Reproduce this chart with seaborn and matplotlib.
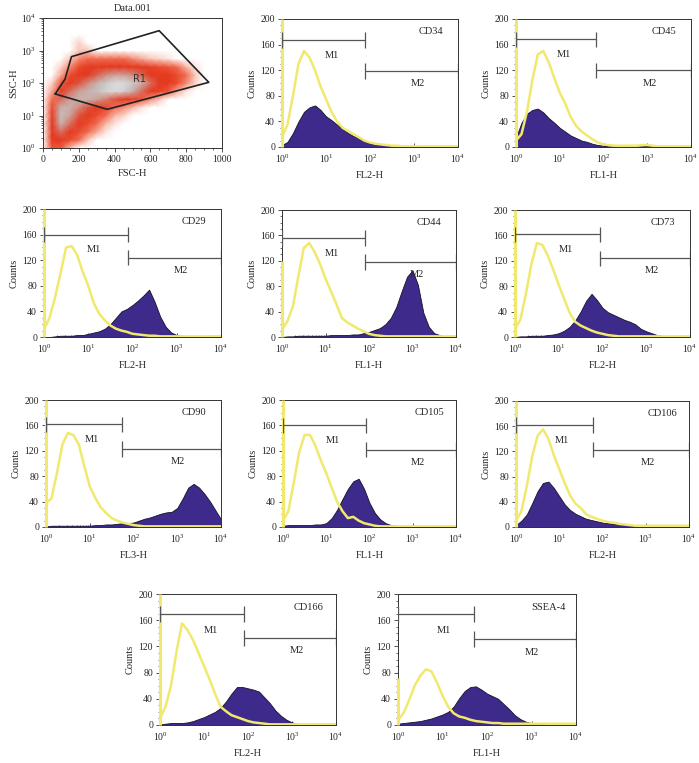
#!/usr/bin/env python3
"""
Flow cytometry panel: FSC/SSC gate plus isotype vs. marker histograms
for 10 surface markers (CD34 ... SSEA-4).
"""

import numpy as np
import matplotlib
matplotlib.use("Agg")
import matplotlib.pyplot as plt
from matplotlib.colors import LinearSegmentedColormap
from matplotlib.ticker import MultipleLocator, LogLocator, NullFormatter
import seaborn as sns

# ---------------------------------------------------------------- data
# log10 channel position of each histogram sample
LOG_CHANNEL = [0.0, 0.125, 0.25, 0.375, 0.5, 0.625, 0.75, 0.875, 1.0, 1.125,
               1.25, 1.375, 1.5, 1.625, 1.75, 1.875, 2.0, 2.125, 2.25, 2.375,
               2.5, 2.625, 2.75, 2.875, 3.0, 3.125, 3.25, 3.375, 3.5, 3.625,
               3.75, 3.875, 4.0]

CD34_ISO = [15, 35, 80, 130, 150, 140, 120, 95, 75, 55, 40, 30, 25, 20, 15, 10, 7,
            5, 4, 3, 2, 2, 1, 1, 1, 1, 1, 1, 1, 1, 1, 1, 1]
CD34_STAIN = [3, 8, 22, 40, 55, 62, 65, 58, 48, 42, 35, 28, 22, 17, 15, 10, 6, 4,
              3, 3, 2, 1, 1, 0, 0, 0, 0, 0, 0, 0, 0, 0, 0]

CD45_ISO = [10, 20, 55, 105, 145, 150, 132, 108, 85, 68, 47, 33, 24, 18, 12, 7, 4,
            3, 2, 2, 2, 2, 2, 3, 3, 2, 1, 1, 1, 1, 1, 1, 1]
CD45_STAIN = [15, 38, 52, 58, 60, 54, 45, 38, 30, 24, 18, 14, 10, 8, 5, 3, 2, 1, 1,
              0.5, 0.5, 0.5, 0.5, 1, 2, 1, 0, 0, 0, 0, 0, 0, 0]

CD29_ISO = [12, 30, 62, 100, 140, 142, 128, 102, 80, 53, 36, 26, 18, 13, 10, 8, 5,
            4, 3, 2, 2, 1, 1, 1, 1, 1, 1, 1, 1, 1, 1, 1, 1]
CD29_STAIN = [0, 0, 1, 2, 2, 2, 3, 3, 5, 7, 9, 13, 20, 30, 40, 44, 50, 57, 65, 74,
              55, 32, 16, 7, 3, 2, 1, 0, 0, 0, 0, 0, 0]

CD44_ISO = [12, 25, 48, 95, 140, 148, 134, 115, 92, 72, 52, 30, 23, 18, 13, 9, 5,
            3, 2, 1, 1, 1, 1, 1, 1, 1, 1, 1, 1, 1, 1, 1, 1]
CD44_STAIN = [0, 1, 1, 2, 2, 2, 2, 2, 2, 3, 3, 3, 3, 4, 4, 6, 8, 11, 14, 20, 30,
              47, 72, 95, 105, 82, 38, 16, 6, 3, 1, 0, 0]

CD73_ISO = [12, 28, 68, 115, 148, 145, 128, 106, 82, 60, 38, 24, 18, 14, 10, 7, 5,
            3, 2, 1, 1, 1, 1, 1, 1, 1, 1, 1, 1, 1, 1, 1, 1]
CD73_STAIN = [0, 1, 1, 2, 2, 2, 3, 4, 6, 10, 16, 26, 40, 57, 68, 58, 46, 39, 35,
              31, 27, 24, 20, 13, 9, 6, 3, 2, 1, 0, 0, 0, 0]

CD90_ISO = [38, 45, 85, 130, 148, 145, 130, 96, 64, 46, 31, 22, 14, 10, 7, 5, 3, 2,
            1, 1, 1, 1, 1, 1, 1, 1, 1, 1, 1, 1, 1, 1, 1]
CD90_STAIN = [1, 2, 2, 2, 2, 2, 2, 2, 2, 3, 3, 4, 4, 5, 6, 6, 7, 10, 13, 15, 18,
              21, 23, 24, 30, 45, 62, 68, 62, 52, 40, 26, 12]

CD105_ISO = [10, 25, 70, 118, 145, 145, 128, 105, 85, 62, 40, 25, 14, 16, 10, 6, 4,
             2, 1, 1, 1, 1, 1, 1, 1, 1, 1, 1, 1, 1, 1, 1, 1]
CD105_STAIN = [2, 3, 3, 3, 3, 3, 4, 4, 6, 14, 27, 44, 60, 72, 76, 60, 38, 22, 12,
               6, 3, 2, 1, 0, 0, 0, 0, 0, 0, 0, 0, 0, 0]

CD106_ISO = [10, 25, 65, 112, 145, 155, 140, 114, 92, 70, 50, 37, 30, 20, 16, 13,
             10, 8, 7, 5, 4, 3, 2, 2, 2, 2, 2, 2, 2, 2, 2, 2, 2]
CD106_STAIN = [3, 10, 20, 38, 57, 70, 72, 62, 49, 36, 27, 21, 17, 13, 11, 9, 7, 6,
               5, 5, 4, 3, 2, 2, 1, 0, 0, 0, 0, 0, 0, 0, 0]

CD166_ISO = [10, 28, 60, 112, 155, 145, 130, 110, 90, 70, 48, 28, 21, 15, 12, 9, 6,
             4, 3, 2, 1, 1, 1, 1, 1, 1, 1, 1, 1, 1, 1, 1, 1]
CD166_STAIN = [1, 2, 3, 3, 3, 4, 6, 9, 12, 16, 20, 26, 36, 48, 58, 58, 56, 54, 51,
               42, 33, 22, 14, 8, 4, 2, 1, 0, 0, 0, 0, 0, 0]

SSEA4_ISO = [8, 18, 38, 60, 75, 85, 82, 65, 45, 28, 18, 13, 11, 8, 6, 5, 4, 3, 3, 2,
             2, 2, 2, 2, 2, 2, 2, 2, 2, 2, 2, 2, 2]
SSEA4_STAIN = [2, 3, 4, 5, 6, 8, 10, 13, 16, 20, 28, 41, 52, 58, 59, 54, 48, 44, 40,
               32, 24, 15, 9, 5, 3, 2, 1, 0, 0, 0, 0, 0, 0]

MARKERS = ["CD34", "CD45", "CD29", "CD44", "CD73", "CD90", "CD105", "CD106",
           "CD166", "SSEA-4"]
CHANNELS = ["FL2-H", "FL1-H", "FL2-H", "FL1-H", "FL2-H", "FL3-H", "FL1-H",
            "FL2-H", "FL2-H", "FL1-H"]
ISO_SERIES = [CD34_ISO, CD45_ISO, CD29_ISO, CD44_ISO, CD73_ISO, CD90_ISO,
              CD105_ISO, CD106_ISO, CD166_ISO, SSEA4_ISO]
STAIN_SERIES = [CD34_STAIN, CD45_STAIN, CD29_STAIN, CD44_STAIN, CD73_STAIN,
                CD90_STAIN, CD105_STAIN, CD106_STAIN, CD166_STAIN, SSEA4_STAIN]
# counts piled up in the first isotype channel
ISO_FIRST_CHANNEL = [200, 200, 200, 120, 200, 200, 200, 200, 200, 72]

# marker gates: M1 runs 1 -> boundary, M2 runs boundary -> 10^4
GATE_BOUNDARY = [79, 68, 78, 83, 89, 56, 85, 60, 81, 52]
M1_LEVEL = [167, 168, 160, 156, 162, 162, 160, 162, 169, 169]
M2_LEVEL = [119, 120, 124, 118, 124, 123, 122, 123, 133, 131]

# FSC/SSC density (0 empty ... 4 densest)
SCATTER_FSC = [0, 50, 100, 150, 200, 250, 300, 350, 400, 450, 500, 550, 600,
               650, 700, 750, 800, 850, 900, 950, 1000]
SCATTER_LOG_SSC = [0.0, 0.25, 0.5, 0.75, 1.0, 1.25, 1.5, 1.75, 2.0, 2.25, 2.5,
                   2.75, 3.0, 3.25, 3.5, 3.75, 4.0]
SCATTER_DENSITY = [
    [0, 1.2, 1.2, 0.5, 0, 0, 0, 0, 0, 0, 0, 0, 0, 0, 0, 0, 0, 0, 0, 0, 0],
    [0, 2.0, 2.0, 1.5, 1.0, 0.4, 0, 0, 0, 0, 0, 0, 0, 0, 0, 0, 0, 0, 0, 0, 0],
    [0, 2.0, 2.4, 2.0, 1.5, 1.0, 0.6, 0.2, 0, 0, 0, 0, 0, 0, 0, 0, 0, 0, 0, 0, 0],
    [0, 2.0, 3.0, 2.4, 2.0, 1.5, 1.0, 0.5, 0.2, 0, 0, 0, 0, 0, 0, 0, 0, 0, 0, 0, 0],
    [0, 1.8, 3.2, 2.8, 2.2, 2.0, 1.5, 1.0, 0.5, 0.3, 0, 0, 0, 0, 0, 0, 0, 0, 0, 0, 0],
    [0, 1.5, 3.0, 3.0, 2.6, 2.2, 2.0, 1.6, 1.0, 0.8, 0.5, 0.2, 0, 0, 0, 0, 0, 0, 0, 0, 0],
    [0, 1.0, 2.4, 2.8, 3.0, 3.0, 2.8, 2.5, 2.2, 2.0, 1.8, 1.3, 0.8, 0.4, 0, 0, 0, 0, 0, 0, 0],
    [0, 0.6, 2.0, 2.4, 2.8, 3.0, 3.2, 3.6, 3.8, 3.6, 3.0, 2.4, 2.0, 1.8, 1.2, 0.6, 0.2, 0, 0, 0, 0],
    [0, 0.3, 1.2, 2.0, 2.2, 2.6, 3.0, 3.4, 3.8, 3.8, 3.4, 3.0, 2.4, 2.0, 2.0, 1.5, 0.8, 0.3, 0, 0, 0],
    [0, 0, 0.6, 1.5, 2.0, 2.0, 2.3, 2.6, 2.8, 2.8, 2.6, 2.3, 2.0, 2.0, 2.0, 1.5, 1.0, 0.4, 0, 0, 0],
    [0, 0, 0.3, 0.8, 1.5, 2.0, 2.0, 2.0, 2.0, 2.0, 2.0, 2.0, 1.8, 1.5, 1.2, 1.0, 0.5, 0.2, 0, 0, 0],
    [0, 0, 0, 0.4, 0.8, 1.0, 1.0, 1.0, 1.0, 1.0, 0.8, 0.6, 0.4, 0.3, 0.2, 0, 0, 0, 0, 0, 0],
    [0, 0, 0, 0, 0.4, 0.4, 0, 0, 0, 0, 0, 0, 0, 0, 0, 0, 0, 0, 0, 0, 0],
    [0, 0, 0, 0, 0.3, 0, 0, 0, 0, 0, 0, 0, 0, 0, 0, 0, 0, 0, 0, 0, 0],
    [0] * 21,
    [0] * 21,
    [0] * 21,
]
GATE_FSC = [68, 123, 159, 649, 926, 359]
GATE_SSC = [46, 132, 646, 4070, 105, 15.5]

# ---------------------------------------------------------------- layout
W, H = 699, 763
AXES_PX = {  # x0, x1, top, bottom in pixels
    "scatter": (43, 222, 18, 148),
    "CD34": (282, 458, 19, 147),
    "CD45": (516, 691, 19, 147),
    "CD29": (44, 221, 209, 337),
    "CD44": (282, 456, 210, 337),
    "CD73": (515, 690, 210, 337),
    "CD90": (46, 221, 400, 527),
    "CD105": (283, 456, 400, 527),
    "CD106": (516, 689, 401, 527),
    "CD166": (160, 336, 594, 725),
    "SSEA-4": (398, 576, 594, 725),
}

PURPLE = "#3d2a8a"
YELLOW = "#f1e96e"
GATE_GREY = "#555555"
TICK_SIZE = 7
LABEL_SIZE = 7.5


def px_rect(x0, x1, top, bottom):
    return [x0 / W, 1 - bottom / H, (x1 - x0) / W, (bottom - top) / H]


def style_box(ax):
    for side in ["left", "bottom", "top", "right"]:
        ax.spines[side].set_visible(True)
        ax.spines[side].set_color("#333333")
        ax.spines[side].set_linewidth(0.7)
    ax.tick_params(which="major", labelsize=TICK_SIZE, length=3, width=0.6,
                   color="#333333", pad=2)
    ax.tick_params(which="minor", length=1.6, width=0.5, color="#333333")


def draw_scatter(ax):
    cmap = LinearSegmentedColormap.from_list(
        "dot",
        [(0.0, "#ffffff"), (0.12, "#f7b9aa"), (0.28, "#ee5a3c"),
         (0.5, "#e4391f"), (0.68, "#cf9a92"), (0.82, "#c4c4c4"),
         (1.0, "#e2e2e2")],
    )
    ssc = 10.0 ** np.array(SCATTER_LOG_SSC)
    ax.pcolormesh(SCATTER_FSC, ssc, np.array(SCATTER_DENSITY, dtype=float),
                  shading="gouraud", cmap=cmap, vmin=0, vmax=4)
    ax.plot(GATE_FSC + GATE_FSC[:1], GATE_SSC + GATE_SSC[:1],
            color="#222222", lw=1.2)
    ax.text(538, 135, "R1", fontsize=7, family="DejaVu Sans",
            color="#333333", ha="center", va="center")

    ax.set_yscale("log")
    ax.set_xlim(0, 1000)
    ax.set_ylim(1, 1e4)
    ax.xaxis.set_major_locator(MultipleLocator(200))
    ax.xaxis.set_minor_locator(MultipleLocator(50))
    ax.yaxis.set_major_locator(LogLocator(base=10, numticks=10))
    ax.yaxis.set_minor_locator(LogLocator(base=10, subs=np.arange(2, 10),
                                          numticks=10))
    ax.yaxis.set_minor_formatter(NullFormatter())
    style_box(ax)
    ax.tick_params(which="both", direction="out")
    ax.set_xlabel("FSC-H", fontsize=LABEL_SIZE, labelpad=4)
    ax.set_ylabel("SSC-H", fontsize=LABEL_SIZE, labelpad=2)
    ax.set_title("Data.001", fontsize=LABEL_SIZE, pad=5)


def draw_histogram(ax, i):
    x = 10.0 ** np.array(LOG_CHANNEL)
    ax.set_xscale("log")

    ax.fill_between(x, STAIN_SERIES[i], color=PURPLE, edgecolor="#15122a",
                    lw=0.6, zorder=2)
    sns.lineplot(x=x, y=ISO_SERIES[i], ax=ax, color=YELLOW, lw=1.8, zorder=3)
    ax.vlines(1.0, 0, ISO_FIRST_CHANNEL[i], color=YELLOW, lw=2.2, zorder=4,
              clip_on=False)

    # marker gates
    b = GATE_BOUNDARY[i]
    m1, m2 = M1_LEVEL[i], M2_LEVEL[i]
    kw = dict(color=GATE_GREY, lw=0.9, zorder=5)
    ax.hlines(m1, 1, b, **kw)
    ax.vlines([1, b], m1 - 12, m1 + 12, **kw)
    ax.hlines(m2, b, 1e4, **kw)
    ax.vlines([b, 1e4], m2 - 12, m2 + 12, **kw)
    lb = np.log10(b)
    ax.text(10 ** (0.6 * lb), m1 - 24, "M1", fontsize=LABEL_SIZE, ha="center",
            va="center")
    ax.text(10 ** ((lb + 4) / 2 + 0.15), m2 - 20, "M2", fontsize=LABEL_SIZE,
            ha="center", va="center")
    ax.text(0.845, 0.9, MARKERS[i], transform=ax.transAxes,
            fontsize=LABEL_SIZE, ha="center", va="center")

    ax.set_xlim(1, 1e4)
    ax.set_ylim(0, 200)
    ax.xaxis.set_major_locator(LogLocator(base=10, numticks=10))
    ax.xaxis.set_minor_locator(LogLocator(base=10, subs=np.arange(2, 10),
                                          numticks=10))
    ax.xaxis.set_minor_formatter(NullFormatter())
    ax.yaxis.set_major_locator(MultipleLocator(40))
    ax.yaxis.set_minor_locator(MultipleLocator(10))
    style_box(ax)
    ax.tick_params(axis="y", which="both", direction="out")
    ax.tick_params(axis="x", which="both", direction="in")
    ax.tick_params(axis="x", which="major", pad=4)
    ax.set_xlabel(CHANNELS[i], fontsize=LABEL_SIZE, labelpad=4)
    ax.set_ylabel("Counts", fontsize=LABEL_SIZE, labelpad=3)


def create_figure():
    sns.set_theme(style="ticks")
    plt.rcParams["font.family"] = ["Liberation Serif", "DejaVu Serif"]
    plt.rcParams["mathtext.fontset"] = "stix"

    fig = plt.figure(figsize=(W / 100, H / 100), dpi=100, facecolor="white")

    ax = fig.add_axes(px_rect(*AXES_PX["scatter"]))
    draw_scatter(ax)

    for i, name in enumerate(MARKERS):
        ax = fig.add_axes(px_rect(*AXES_PX[name]))
        draw_histogram(ax, i)

    return fig


def main():
    fig = create_figure()
    fig.savefig("out.png", dpi=100, facecolor="white")
    plt.close(fig)


if __name__ == "__main__":
    main()
